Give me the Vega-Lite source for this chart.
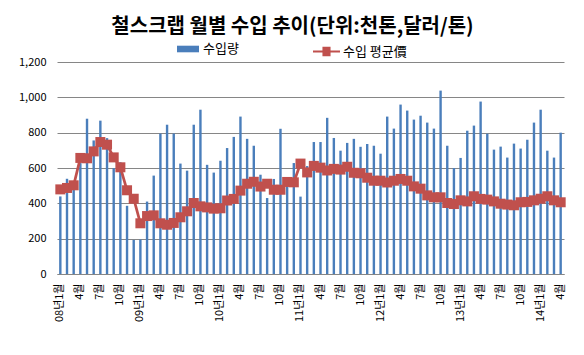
{
  "$schema": "https://vega.github.io/schema/vega-lite/v6.json",
  "width": 507,
  "height": 212,
  "autosize": {"type": "none"},
  "padding": {"left": 57, "top": 62, "right": 20, "bottom": 81},
  "background": "white",
  "title": {
    "text": "철스크랩 월별 수입 추이(단위:천톤,달러/톤)",
    "font": "Noto Sans CJK KR",
    "fontSize": 20,
    "fontWeight": "bold",
    "color": "#000000",
    "anchor": "middle",
    "frame": "group",
    "baseline": "alphabetic",
    "offset": -15,
    "dx": -18
  },
  "config": {
    "view": {"stroke": null},
    "font": "Noto Sans CJK KR",
    "axisY": {
      "tickCount": 6,
      "format": ",d",
      "labelFont": "Noto Sans CJK KR",
      "labelFontSize": 11,
      "labelColor": "#000000",
      "labelPadding": 11,
      "labelOverlap": false,
      "domain": false,
      "ticks": false,
      "gridColor": "#868686",
      "gridWidth": 1,
      "gridOpacity": 1
    }
  },
  "data": {
    "values": [
      {"ym": "2008-01", "q": 439, "p": 479},
      {"ym": "2008-02", "q": 539, "p": 487},
      {"ym": "2008-03", "q": 476, "p": 502},
      {"ym": "2008-04", "q": 628, "p": 657},
      {"ym": "2008-05", "q": 879, "p": 655},
      {"ym": "2008-06", "q": 756, "p": 694},
      {"ym": "2008-07", "q": 868, "p": 747},
      {"ym": "2008-08", "q": 769, "p": 732},
      {"ym": "2008-09", "q": 599, "p": 660},
      {"ym": "2008-10", "q": 633, "p": 604},
      {"ym": "2008-11", "q": 386, "p": 474},
      {"ym": "2008-12", "q": 193, "p": 426},
      {"ym": "2009-01", "q": 195, "p": 287},
      {"ym": "2009-02", "q": 410, "p": 328},
      {"ym": "2009-03", "q": 557, "p": 332},
      {"ym": "2009-04", "q": 795, "p": 287},
      {"ym": "2009-05", "q": 845, "p": 279},
      {"ym": "2009-06", "q": 795, "p": 289},
      {"ym": "2009-07", "q": 625, "p": 321},
      {"ym": "2009-08", "q": 585, "p": 355},
      {"ym": "2009-09", "q": 845, "p": 402},
      {"ym": "2009-10", "q": 930, "p": 383},
      {"ym": "2009-11", "q": 618, "p": 377},
      {"ym": "2009-12", "q": 574, "p": 370},
      {"ym": "2010-01", "q": 641, "p": 372},
      {"ym": "2010-02", "q": 713, "p": 416},
      {"ym": "2010-03", "q": 776, "p": 425},
      {"ym": "2010-04", "q": 891, "p": 472},
      {"ym": "2010-05", "q": 765, "p": 511},
      {"ym": "2010-06", "q": 726, "p": 522},
      {"ym": "2010-07", "q": 562, "p": 495},
      {"ym": "2010-08", "q": 430, "p": 511},
      {"ym": "2010-09", "q": 538, "p": 477},
      {"ym": "2010-10", "q": 822, "p": 477},
      {"ym": "2010-11", "q": 500, "p": 521},
      {"ym": "2010-12", "q": 628, "p": 519},
      {"ym": "2011-01", "q": 438, "p": 625},
      {"ym": "2011-02", "q": 611, "p": 575},
      {"ym": "2011-03", "q": 747, "p": 612},
      {"ym": "2011-04", "q": 747, "p": 602},
      {"ym": "2011-05", "q": 884, "p": 586},
      {"ym": "2011-06", "q": 770, "p": 595},
      {"ym": "2011-07", "q": 698, "p": 591},
      {"ym": "2011-08", "q": 742, "p": 607},
      {"ym": "2011-09", "q": 765, "p": 573},
      {"ym": "2011-10", "q": 720, "p": 570},
      {"ym": "2011-11", "q": 736, "p": 545},
      {"ym": "2011-12", "q": 726, "p": 528},
      {"ym": "2012-01", "q": 681, "p": 528},
      {"ym": "2012-02", "q": 891, "p": 518},
      {"ym": "2012-03", "q": 823, "p": 528},
      {"ym": "2012-04", "q": 959, "p": 538},
      {"ym": "2012-05", "q": 925, "p": 528},
      {"ym": "2012-06", "q": 874, "p": 496},
      {"ym": "2012-07", "q": 896, "p": 483},
      {"ym": "2012-08", "q": 857, "p": 445},
      {"ym": "2012-09", "q": 823, "p": 434},
      {"ym": "2012-10", "q": 1038, "p": 434},
      {"ym": "2012-11", "q": 726, "p": 402},
      {"ym": "2012-12", "q": 600, "p": 396},
      {"ym": "2013-01", "q": 657, "p": 417},
      {"ym": "2013-02", "q": 811, "p": 411},
      {"ym": "2013-03", "q": 840, "p": 440},
      {"ym": "2013-04", "q": 976, "p": 425},
      {"ym": "2013-05", "q": 794, "p": 421},
      {"ym": "2013-06", "q": 704, "p": 411},
      {"ym": "2013-07", "q": 721, "p": 398},
      {"ym": "2013-08", "q": 659, "p": 393},
      {"ym": "2013-09", "q": 738, "p": 389},
      {"ym": "2013-10", "q": 710, "p": 406},
      {"ym": "2013-11", "q": 760, "p": 408},
      {"ym": "2013-12", "q": 857, "p": 417},
      {"ym": "2014-01", "q": 930, "p": 426},
      {"ym": "2014-02", "q": 698, "p": 440},
      {"ym": "2014-03", "q": 659, "p": 417},
      {"ym": "2014-04", "q": 800, "p": 406}
    ]
  },
  "encoding": {
    "x": {
      "field": "ym",
      "type": "ordinal",
      "sort": null,
      "scale": {"paddingInner": 0, "paddingOuter": 0},
      "axis": {
        "title": null,
        "labelAngle": -90,
        "labelFont": "Noto Sans CJK KR",
        "labelFontSize": 11,
        "labelColor": "#000000",
        "labelPadding": 9,
        "labelOverlap": false,
        "labelBound": false,
        "labelFlush": false,
        "ticks": false,
        "domainColor": "#868686",
        "grid": false,
        "labelExpr": "(toNumber(substring(datum.value,5,7)) - 1) % 3 != 0 ? '' : (substring(datum.value,5,7) == '01' ? substring(datum.value,2,4) + '년1월' : toNumber(substring(datum.value,5,7)) + '월')"
      }
    }
  },
  "layer": [
    {
      "mark": {"type": "bar", "size": 2.4},
      "encoding": {
        "y": {
          "field": "q",
          "type": "quantitative",
          "title": null,
          "scale": {"domain": [0, 1200], "nice": false}
        },
        "fill": {
          "datum": "수입량",
          "type": "nominal",
          "scale": {"range": ["#4A7EBB"]},
          "legend": {
            "orient": "none",
            "legendX": 120,
            "legendY": -24,
            "title": null,
            "padding": 0,
            "symbolType": "M-1,-0.3H1V0.3H-1Z",
            "symbolSize": 484,
            "symbolStrokeWidth": 0,
            "labelFont": "Noto Sans CJK KR",
            "labelFontSize": 13,
            "labelColor": "#000000",
            "labelOffset": 4
          }
        }
      }
    },
    {
      "mark": {"type": "line", "strokeWidth": 2.75},
      "encoding": {
        "y": {"field": "p", "type": "quantitative", "title": null},
        "stroke": {
          "datum": "수입 평균價",
          "type": "nominal",
          "scale": {"range": ["#C0504D"]},
          "legend": {
            "orient": "none",
            "legendX": 256,
            "legendY": -24,
            "title": null,
            "padding": 0,
            "symbolType": "M-1,-0.08H-0.3V-0.35H0.3V-0.08H1V0.08H0.3V0.35H-0.3V0.08H-1Z",
            "symbolSize": 729,
            "symbolStrokeWidth": 0,
            "symbolFillColor": "#C0504D",
            "labelFont": "Noto Sans CJK KR",
            "labelFontSize": 13,
            "labelColor": "#000000",
            "labelOffset": 3,
            "encode": {"symbols": {"update": {"fill": {"value": "#C0504D"}, "strokeWidth": {"value": 0}}}}
          }
        }
      }
    },
    {
      "mark": {"type": "point", "shape": "square", "size": 100, "filled": true, "color": "#C0504D", "opacity": 1},
      "encoding": {
        "y": {"field": "p", "type": "quantitative", "title": null}
      }
    }
  ]
}
